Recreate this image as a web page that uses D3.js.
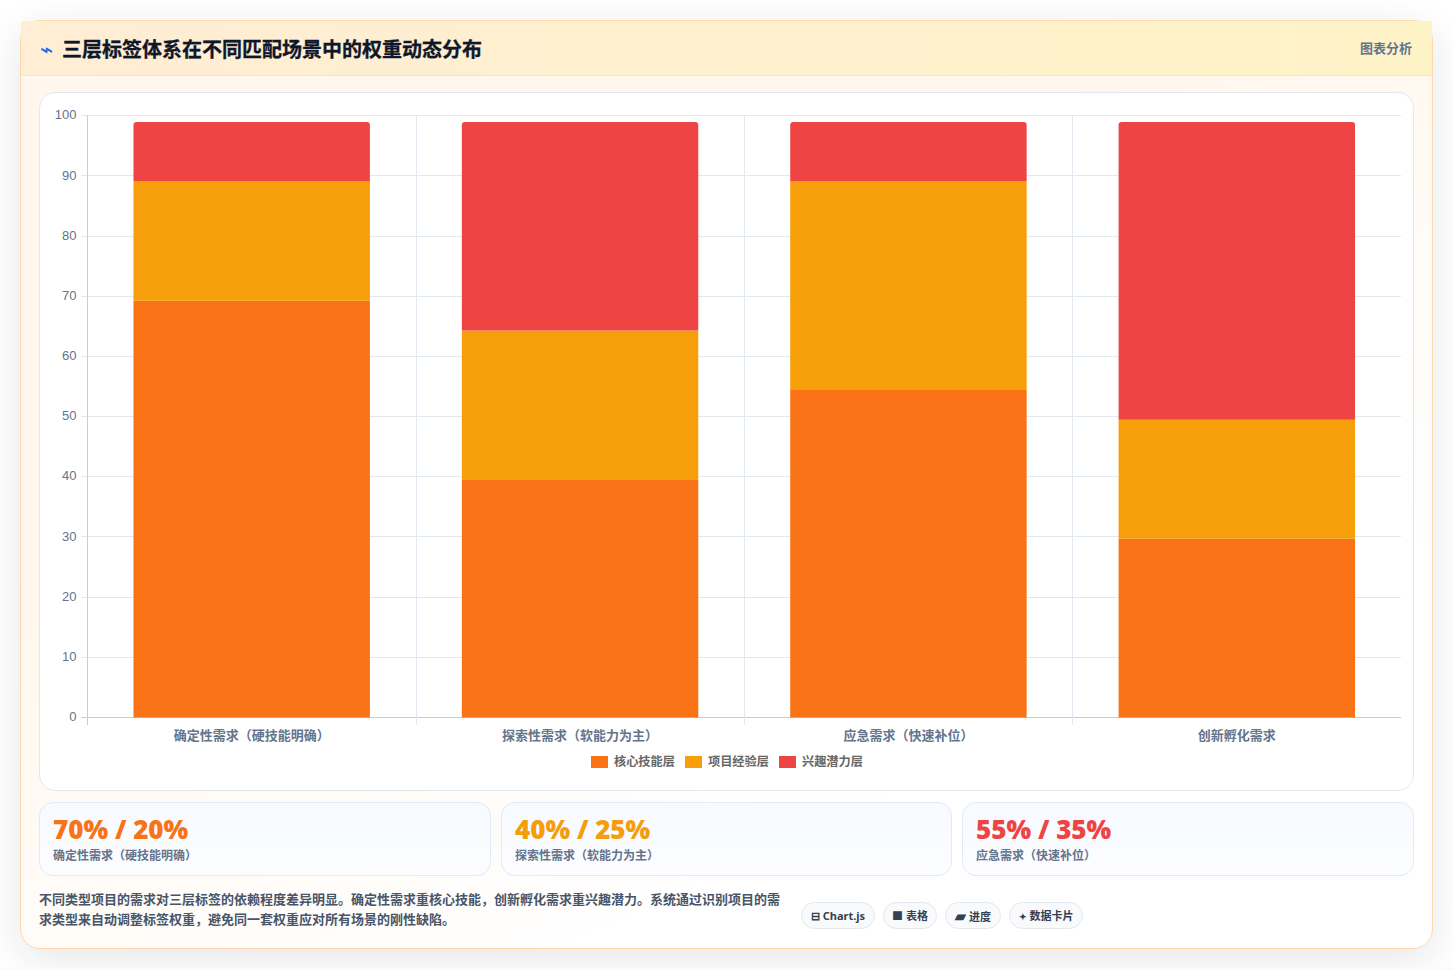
<!DOCTYPE html>
<html lang="zh">
<head>
<meta charset="utf-8">
<title>三层标签体系在不同匹配场景中的权重动态分布</title>
<script src="https://cdn.jsdelivr.net/npm/d3@7/dist/d3.min.js"></script>
<style>
  html, body { margin: 0; padding: 0; background: #f8fafc; }
  body { width: 1453px; height: 970px; position: relative; overflow: hidden;
         font-family: "Liberation Sans", "Noto Sans CJK SC", sans-serif; }
  .page { position: absolute; left: 0; top: 0; width: 1453px; height: 968px; overflow: hidden; background: #fff; }
  .panel { position: absolute; left: 20px; top: 20px; width: 1411px; height: 927px;
           border: 1px solid #fed7aa; border-radius: 20px;
           box-shadow: 0 10px 40px rgba(15,23,42,.11);
           background: linear-gradient(155deg, #fff7ed 0%, #fff7ed 35%, #ffffff 75%); }
  .head { position: absolute; left: 0; top: 0; right: 0; height: 55px; box-sizing: border-box;
          border-bottom: 1px solid #e5e7eb; border-top-left-radius: 3px;
          background: linear-gradient(90deg, #ffedd5, #fef3c7); }
  .head h1 { position: absolute; left: 41px; top: 13px; margin: 0; font: 700 20px/30px "Noto Sans CJK SC"; color: #0f172a;
             -webkit-text-stroke: 0.3px #0f172a; }
  .head .bolt { position: absolute; left: 19px; top: 17px; font: 400 22px/24px "DejaVu Sans"; color: #2563eb; }
  .head .tag { position: absolute; right: 20px; top: 17px; font: 600 13px/20px "Noto Sans CJK SC"; color: #64748b; }
  .plotcard { position: absolute; left: 18px; top: 71px; width: 1373px; height: 697px; background: #fff;
              border: 1px solid #e2e8f0; border-radius: 16px; }
  svg { position: absolute; left: 0; top: 0; }
  .stat { position: absolute; top: 802px; height: 72px; border: 1px solid #e0eaf8; border-radius: 14px;
          background: linear-gradient(180deg, #f7faff, #fcfdff); }
  .stat b { position: absolute; left: 13px; top: 11px; font: 900 26px/30px "Noto Sans", sans-serif; white-space: nowrap; }
  .stat span { position: absolute; left: 13px; top: 43px; font: 600 12px/18px "Noto Sans CJK SC"; color: #64748b; white-space: nowrap; }
  .note { position: absolute; width: 745px; font: 600 13px/20px "Noto Sans CJK SC"; color: #475569; }
  .pill { position: absolute; height: 27px; box-sizing: border-box; border: 1px solid #e2e8f0; border-radius: 14px;
          background: #f8fafc; font: 700 11px/26px "Noto Sans", "Noto Sans CJK SC"; color: #334155; text-align: center; white-space: nowrap; }
</style>
</head>
<body>
<div class="page" id="page">
<div class="panel" id="panel">
  <div class="head"><span class="bolt">⌁</span><h1 id="title"></h1><span class="tag" id="tag"></span></div>
  <div class="plotcard"></div>
</div>
<svg id="chart" width="1453" height="968"></svg>
</div>
<script>
// Chart text
const chartTitle = "三层标签体系在不同匹配场景中的权重动态分布";
const headerTag = "图表分析";
const scenarios = ["确定性需求（硬技能明确）", "探索性需求（软能力为主）", "应急需求（快速补位）", "创新孵化需求"];
const yTicks = [0, 10, 20, 30, 40, 50, 60, 70, 80, 90, 100];

// Layer weights per scenario, in percent
const layerNames = ["核心技能层", "项目经验层", "兴趣潜力层"];
const coreSkill = [70, 40, 55, 30];
const projectExp = [20, 25, 35, 20];
const interest = [10, 35, 10, 50];
const layerColors = ["#f97316", "#f79e0b", "#ef4444"];

// Summary cards under the plot
const statValues = ["70% / 20%", "40% / 25%", "55% / 35%"];
const statLabels = ["确定性需求（硬技能明确）", "探索性需求（软能力为主）", "应急需求（快速补位）"];
const statColors = ["#f97316", "#f59e0b", "#ef4444"];
const statLefts = [39, 501, 962];
const statWidths = [450, 449, 450];

const noteText = "不同类型项目的需求对三层标签的依赖程度差异明显。确定性需求重核心技能，创新孵化需求重兴趣潜力。系统通过识别项目的需求类型来自动调整标签权重，避免同一套权重应对所有场景的刚性缺陷。";
const pillIcons = ["⊟", "■", "▰", "✦"];
const pillIconSizes = [11, 11, 14, 9];
const pillLabels = ["Chart.js", "表格", "进度", "数据卡片"];
const pillLefts = [801, 883, 945, 1009];
const pillWidths = [74, 54, 56, 74];

// Plot geometry
const plot = { left: 87.5, right: 1401, top: 115.32, bottom: 717 };
const barRange = [717.5, 122];   // the stacks stop just short of the 100 gridline

d3.select("#title").text(chartTitle);
d3.select("#tag").text(headerTag);

const x = d3.scaleBand().domain(scenarios).range([plot.left, plot.right]).paddingInner(0.28).paddingOuter(0.14);
const y = d3.scaleLinear().domain([0, 100]).range([plot.bottom, plot.top]);
const yBar = d3.scaleLinear().domain([0, 100]).range(barRange);
const slot = d3.scaleBand().domain(scenarios).range([plot.left, plot.right]);

const svg = d3.select("#chart");

// Grid
const grid = svg.append("g");
grid.selectAll("line.h").data(yTicks).join("line").attr("class", "h")
  .attr("x1", plot.left - 6).attr("x2", plot.right)
  .attr("y1", d => Math.round(y(d)) + 0.5).attr("y2", d => Math.round(y(d)) + 0.5)
  .attr("stroke", d => d === 0 ? "#c8ccd4" : "#e2e8f0");
const vLines = d3.range(scenarios.length);
const vx = i => Math.floor(plot.left + i * slot.step() + 0.2) + 0.5;
grid.selectAll("line.v").data(vLines).join("line").attr("class", "v")
  .attr("x1", vx).attr("x2", vx)
  .attr("y1", plot.top).attr("y2", plot.bottom + 8)
  .attr("stroke", i => i === 0 ? "#c8ccd4" : "#e2e8f0");

// Stacked bars, only the top segment has rounded corners
const rows = scenarios.map((s, i) => ({ s, a: coreSkill[i], b: projectExp[i], c: interest[i] }));
const stacked = d3.stack().keys(["a", "b", "c"])(rows);
const bars = svg.append("g");
bars.selectAll("g").data(stacked).join("g").attr("fill", (d, i) => layerColors[i])
  .selectAll("path").data(d => d.map(v => ({ v, top: d.key === "c" }))).join("path")
  .attr("d", ({ v, top }) => {
    const x0 = x(v.data.s), w = x.bandwidth(), y0 = yBar(v[0]), y1 = yBar(v[1]);
    const r = top ? 3 : 0;
    const p = d3.path();
    p.moveTo(x0, y0);
    p.lineTo(x0, y1 + r);
    if (r) p.quadraticCurveTo(x0, y1, x0 + r, y1);
    p.lineTo(x0 + w - r, y1);
    if (r) p.quadraticCurveTo(x0 + w, y1, x0 + w, y1 + r);
    p.lineTo(x0 + w, y0);
    p.closePath();
    return p.toString();
  });

// Axis labels
svg.append("g").selectAll("text").data(yTicks).join("text")
  .attr("x", plot.left - 11).attr("y", d => Math.round(y(d) + 4.1))
  .attr("text-anchor", "end").attr("fill", "#64748b")
  .attr("font-family", "Liberation Sans").attr("font-size", 13).text(d => d);
svg.append("g").selectAll("text").data(scenarios).join("text")
  .attr("x", d => x(d) + x.bandwidth() / 2).attr("y", 740)
  .attr("text-anchor", "middle").attr("fill", "#64748b")
  .attr("font-family", "Noto Sans CJK SC").attr("font-weight", 600).attr("font-size", 13).text(d => d);

// Legend
const legendX = [591, 685, 779];
const legend = svg.append("g").selectAll("g").data(layerNames).join("g")
  .attr("transform", (d, i) => `translate(${legendX[i]},756)`);
legend.append("rect").attr("width", 17).attr("height", 12).attr("fill", (d, i) => layerColors[i]);
legend.append("text").attr("x", 23).attr("y", 10).attr("fill", "#666666")
  .attr("font-family", "Noto Sans CJK SC").attr("font-weight", 600).attr("font-size", 12.2).text(d => d);

// Summary cards
const page = d3.select("#page");
statValues.forEach((v, i) => {
  const card = page.append("div").attr("class", "stat")
    .style("left", statLefts[i] + "px").style("width", statWidths[i] + "px");
  card.append("b").style("color", statColors[i]).text(v);
  card.append("span").text(statLabels[i]);
});

// Footnote and feature pills
page.append("div").attr("class", "note").style("left", "39px").style("top", "889px").text(noteText);
pillLabels.forEach((t, i) => {
  const pill = page.append("div").attr("class", "pill")
    .style("left", pillLefts[i] + "px").style("top", "902px").style("width", pillWidths[i] + "px");
  pill.append("span").style("font-size", pillIconSizes[i] + "px").text(pillIcons[i]);
  pill.append("span").text(" " + t);
});
</script>
</body>
</html>
